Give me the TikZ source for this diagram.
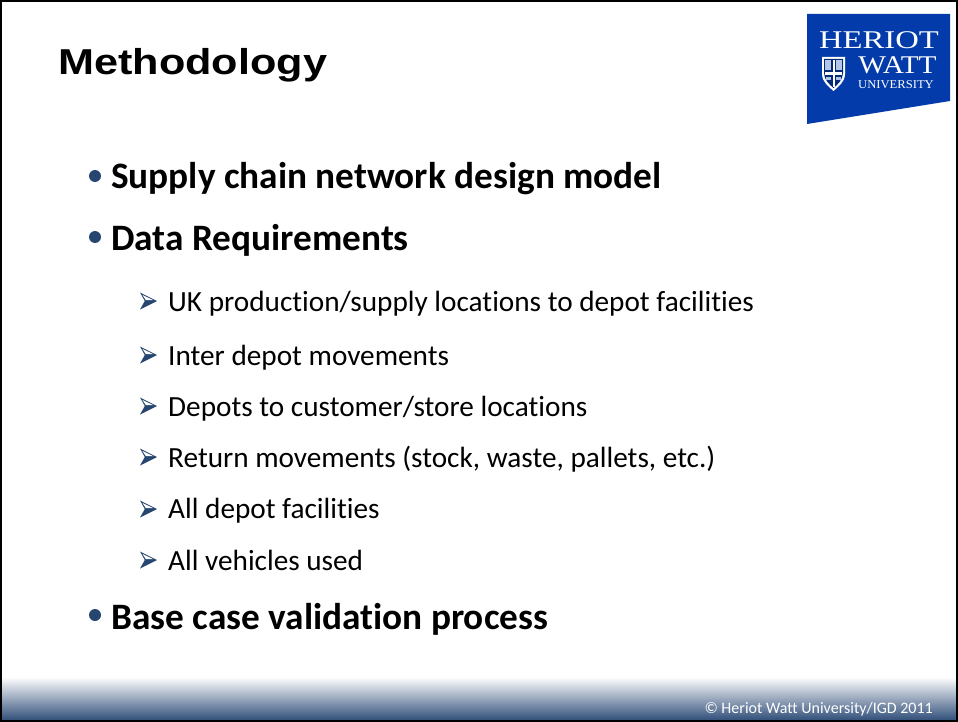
\documentclass[tikz,border=0pt]{standalone}
\usepackage{fontspec}
\setmainfont{Carlito}[Ligatures=NoCommon]
\newfontfamily\headfont{Liberation Sans}
\newfontfamily\logofont{Liberation Serif}
\definecolor{bluedark}{RGB}{38,70,112}
\definecolor{logoblue}{RGB}{3,60,170}
\definecolor{footdark}{RGB}{50,80,122}
\tikzset{
  x=1pt,y=-1pt,
  main/.style={anchor=base west,inner sep=0pt,font=\fontsize{37.3}{37.3}\selectfont\bfseries,text=black},
  sub/.style={anchor=base west,inner sep=0pt,font=\fontsize{29.25}{29.25}\selectfont,text=black},
  logotext/.style={anchor=base,inner sep=0pt,text=white},
  dot/.style={circle,fill=bluedark,inner sep=0pt,minimum size=12pt},
  pointer/.pic={\fill[bluedark] (-8,-8.5) -- (9,0) -- (-8,8.5) -- (-3.2,0) -- cycle;
                \fill[white] (-5.5,-6) -- (5,-1) -- (-2.2,-1) -- cycle;},
}
\begin{document}
\begin{tikzpicture}
\useasboundingbox (0,0) rectangle (958,722);
\fill[white] (0,0) rectangle (958,722);
% footer band
\shade[top color=white,bottom color=footdark] (0,677) rectangle (958,720);
\draw[black,line width=2.5pt] (1,1) rectangle (957,721);
\node[anchor=base west,inner sep=0pt,xscale=1.2,font=\headfont\bfseries\fontsize{36}{36}\selectfont] (title) at (58,74.5) {Methodology};
% logo
\fill[logoblue] (807,14) -- (950,14) -- (950,101) -- (807,124) -- cycle;
\node[logotext,font=\logofont\fontsize{25.5}{25.5}\selectfont,xscale=1.28] (l1) at (879,49) {HERIOT};
\node[logotext,font=\logofont\fontsize{25.5}{25.5}\selectfont,xscale=1.15] (l2) at (897.5,74) {WATT};
\node[logotext,font=\logofont\fontsize{12}{12}\selectfont,xscale=1.05] (l3) at (896,89) {UNIVERSITY};
\fill[white] (822,57) -- (845,57) -- (845,74) .. controls (845,82) and (838,87) .. (833.5,91) .. controls (829,87) and (822,82) .. (822,74) -- cycle;
\fill[logoblue!70!black] (824,59) -- (843,59) -- (843,73) .. controls (843,80) and (837,85) .. (833.5,88) .. controls (830,85) and (824,80) .. (824,73) -- cycle;
\fill[white] (825,72) rectangle (842,75);
\fill[white] (832.5,60) rectangle (834.5,87);
\fill[white!70!logoblue] (825,60) rectangle (831,70);
\fill[white!70!logoblue] (836,60) rectangle (842,70);
\fill[white!70!logoblue] (826,77) rectangle (831,80);
\fill[white!70!logoblue] (836,77) rectangle (841,80);
% main bullets
\node[dot] (b1) at (95,176) {};
\node[main] (t1) at (111,189) {Supply chain network design model};
\node[dot] (b2) at (95,237) {};
\node[main] (t2) at (111,250) {Data Requirements};
\node[dot] (b3) at (95,615) {};
\node[main] (t3) at (111,629) {Base case validation process};
% sub bullets
\pic at (148,301) {pointer};
\node[sub] (s1) at (168,311.5) {UK production/supply locations to depot facilities};
\pic at (148,355) {pointer};
\node[sub] (s2) at (168,365) {Inter depot movements};
\pic at (148,406) {pointer};
\node[sub] (s3) at (168,416) {Depots to customer/store locations};
\pic at (148,457) {pointer};
\node[sub] (s4) at (168,467) {Return movements (stock, waste, pallets, etc.)};
\pic at (148,509) {pointer};
\node[sub] (s5) at (168,518) {All depot facilities};
\pic at (148,560) {pointer};
\node[sub] (s6) at (168,570) {All vehicles used};
\node[anchor=base east,inner sep=0pt,text=white,font=\fontsize{16}{16}\selectfont] (foot) at (933,713) {© Heriot Watt University/IGD 2011};
\end{tikzpicture}
\end{document}
